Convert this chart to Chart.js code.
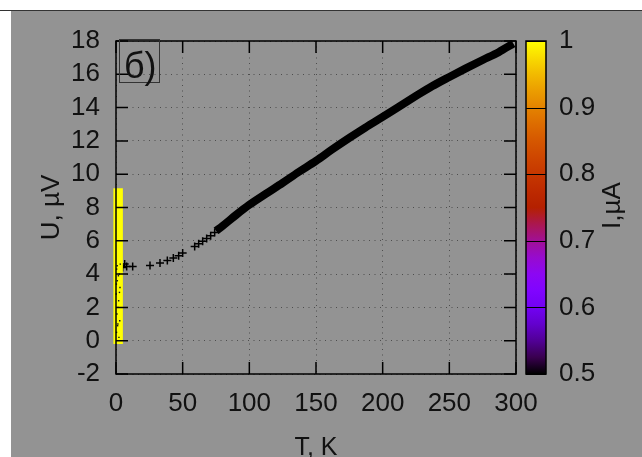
<!DOCTYPE html>
<html>
<head>
<meta charset="utf-8">
<script src="https://cdn.jsdelivr.net/npm/chart.js@4.4.0/dist/chart.umd.min.js"></script>
<style>
  html, body { margin: 0; padding: 0; background: #fff; }
  canvas { display: block; }
</style>
</head>
<body>
<canvas id="chart" width="642" height="457"></canvas>
<script>
// values
const curveT = [75, 80, 90, 100, 112, 125, 137, 150, 162, 175, 187, 200, 212, 225, 237, 250, 262, 275, 287, 298];
const curveU = [6.6, 6.9, 7.55, 8.16, 8.8, 9.48, 10.13, 10.8, 11.48, 12.18, 12.8, 13.44, 14.05, 14.7, 15.28, 15.84, 16.34, 16.86, 17.33, 17.85];
const sparseT = [3.5, 5, 6.5, 8, 12.5, 25.5, 33, 38.5, 43, 47, 50, 59, 62, 65, 68, 71, 74];
const sparseU = [4.5, 4.4, 4.6, 4.45, 4.46, 4.52, 4.66, 4.82, 4.96, 5.1, 5.26, 5.66, 5.82, 5.98, 6.14, 6.3, 6.5];
const yellowT = [1.6, 1.6];
const yellowU = [-0.2, 9.15];
const speckT = [0.5, 2.5, 1.0, 3.0, 0.2, 2.0, 1.5, 0.7, 2.8, 1.2, 0.4, 2.2, 1.8, 3.2, 0.9, 2.6, 1.4, 0.3];
const speckU = [4.3, 4.0, 3.6, 3.2, 2.8, 2.4, 2.0, 1.6, 1.2, 0.9, 0.5, 0.2, 3.9, 4.6, 4.5, 2.9, 1.0, 3.4];
const xTicks = [0, 50, 100, 150, 200, 250, 300];
const yTicks = [-2, 0, 2, 4, 6, 8, 10, 12, 14, 16, 18];
const cbTicks = [0.5, 0.6, 0.7, 0.8, 0.9, 1];

const FONT = 'Liberation Sans, Arial, sans-serif';
const INK = '#111';

function pts(xs, ys) { return xs.map((x, i) => ({ x: x, y: ys[i] })); }

// gnuplot-like palette (rgbformulae 7,5,15)
function pal(t) {
  const r = Math.sqrt(t), g = t * t * t, b = Math.max(0, Math.sin(2 * Math.PI * t));
  return 'rgb(' + Math.round(r * 255) + ',' + Math.round(g * 255) + ',' + Math.round(b * 255) + ')';
}

const decor = {
  id: 'decor',
  beforeDraw(chart) {
    const c = chart.ctx;
    c.save();
    c.fillStyle = '#fff';
    c.fillRect(0, 0, chart.width, chart.height);
    c.fillStyle = '#939393';
    c.fillRect(11, 11, chart.width - 11, chart.height - 11);
    c.strokeStyle = '#333';
    c.lineWidth = 1;
    c.beginPath(); c.moveTo(0, 10.5); c.lineTo(chart.width, 10.5); c.stroke();
    c.restore();
  },
  afterDraw(chart) {
    const c = chart.ctx, a = chart.chartArea;
    const xs = chart.scales.x, ys = chart.scales.y, cb = chart.scales.cb;
    c.save();
    // frame
    c.strokeStyle = '#000';
    c.lineWidth = 1.5;
    c.strokeRect(a.left, a.top, a.right - a.left, a.bottom - a.top);
    // inner ticks, mirrored
    const tl = 12;
    c.beginPath();
    xTicks.forEach(v => {
      const p = xs.getPixelForValue(v);
      c.moveTo(p, a.bottom); c.lineTo(p, a.bottom - tl);
      c.moveTo(p, a.top); c.lineTo(p, a.top + tl);
    });
    yTicks.forEach(v => {
      const p = ys.getPixelForValue(v);
      c.moveTo(a.left, p); c.lineTo(a.left + tl, p);
      c.moveTo(a.right, p); c.lineTo(a.right - tl, p);
    });
    c.stroke();

    // label box
    c.strokeStyle = '#333';
    c.lineWidth = 1;
    c.strokeRect(119.5, 39.5, 40, 43);
    c.fillStyle = INK;
    c.font = '36px ' + FONT;
    c.textAlign = 'left';
    c.textBaseline = 'alphabetic';
    c.fillText('б)', 124, 78);

    // colorbar
    const top = cb.getPixelForValue(1), bot = cb.getPixelForValue(0.5);
    const x0 = a.right + 10, w = 20;
    const g = c.createLinearGradient(0, bot, 0, top);
    for (let i = 0; i <= 20; i++) g.addColorStop(i / 20, pal(i / 20));
    c.fillStyle = g;
    c.fillRect(x0, top, w, bot - top);
    c.strokeStyle = '#000';
    c.lineWidth = 1;
    c.beginPath();
    cbTicks.forEach(v => {
      const p = Math.round(cb.getPixelForValue(v)) + 0.5;
      c.moveTo(x0, p); c.lineTo(x0 + w, p);
    });
    c.stroke();
    c.lineWidth = 1.5;
    c.strokeRect(x0, top, w, bot - top);

    // colorbar title
    c.fillStyle = INK;
    c.font = '26px ' + FONT;
    c.textAlign = 'center';
    c.textBaseline = 'middle';
    c.translate(613, (top + bot) / 2 - 2);
    c.rotate(-Math.PI / 2);
    c.fillText('I,µA', 0, 0);
    c.restore();
  }
};

function fixV(width) {
  return s => { s.width = width; s.paddingTop = 0; s.paddingBottom = 0; };
}

const ctx = document.getElementById('chart').getContext('2d');
const chart = new Chart(ctx, {
  type: 'scatter',
  data: {
    datasets: [
      {
        label: 'speck',
        data: pts(speckT, speckU),
        pointStyle: 'rect',
        pointRadius: 1,
        backgroundColor: '#111',
        borderWidth: 0,
        clip: false,
        order: 0
      },
      {
        label: 'I = 1',
        data: pts(yellowT, yellowU),
        showLine: true,
        borderColor: '#ffff00',
        borderWidth: 9.5,
        borderCapStyle: 'butt',
        pointRadius: 0,
        clip: false,
        order: 1
      },
      {
        label: 'sparse',
        data: pts(sparseT, sparseU),
        pointStyle: 'cross',
        pointRadius: 4,
        borderColor: '#000',
        borderWidth: 1.5,
        clip: false,
        order: 2
      },
      {
        label: 'curve',
        data: pts(curveT, curveU),
        showLine: true,
        cubicInterpolationMode: 'monotone',
        borderColor: '#000',
        borderWidth: 8,
        pointRadius: 0,
        clip: false,
        order: 3
      }
    ]
  },
  options: {
    responsive: false,
    animation: false,
    layout: { padding: { top: 41, right: 0, left: 0, bottom: 0 } },
    plugins: { legend: { display: false }, tooltip: { enabled: false } },
    scales: {
      x: {
        type: 'linear',
        min: 0,
        max: 300,
        afterBuildTicks: s => { s.ticks = xTicks.map(v => ({ value: v })); },
        afterFit: s => { s.height = 83; },
        grid: { color: '#4d4d4d', lineWidth: 1, drawTicks: false },
        border: { display: false, dash: [1, 4.5] },
        ticks: { color: INK, font: { family: FONT, size: 26 }, padding: 14, maxRotation: 0, autoSkip: false },
        title: { display: true, text: 'T, K', color: INK, font: { family: FONT, size: 25 }, padding: { top: 0, bottom: -6 } }
      },
      y: {
        type: 'linear',
        position: 'left',
        min: -2,
        max: 18,
        afterBuildTicks: s => { s.ticks = yTicks.map(v => ({ value: v })); },
        afterFit: fixV(116),
        grid: { color: '#4d4d4d', lineWidth: 1, drawTicks: false },
        border: { display: false, dash: [1, 4.5] },
        ticks: { color: INK, font: { family: FONT, size: 26 }, padding: 16, autoSkip: false },
        title: { display: true, text: 'U, µV', color: INK, font: { family: FONT, size: 26 }, padding: { top: 36, bottom: 0 } }
      },
      cb: {
        type: 'linear',
        position: 'right',
        min: 0.5,
        max: 1,
        afterBuildTicks: s => { s.ticks = cbTicks.map(v => ({ value: v })); },
        afterFit: fixV(126),
        grid: { display: false, drawTicks: false },
        border: { display: false },
        ticks: { color: INK, font: { family: FONT, size: 26 }, padding: 43, autoSkip: false, callback: v => String(v) }
      }
    }
  },
  plugins: [decor]
});
</script>
</body>
</html>
